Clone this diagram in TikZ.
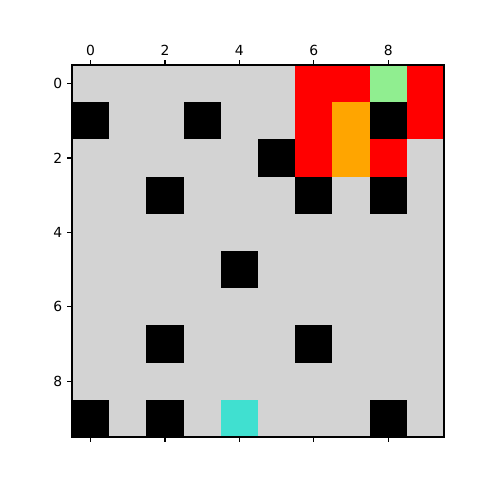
\documentclass[tikz,border=0pt]{standalone}
\usepackage{fontspec}
\setmainfont{DejaVu Sans}
\usepackage{xcolor}
\usetikzlibrary{positioning}
\definecolor{cellgray}{HTML}{D3D3D3}
\definecolor{cellred}{HTML}{FF0000}
\definecolor{cellgreen}{HTML}{90EE90}
\definecolor{cellorange}{HTML}{FFA500}
\definecolor{cellturq}{HTML}{40E0D0}

\begin{document}
\begin{tikzpicture}[
    x=1pt, y=-1pt,
    cell/.style={inner sep=0pt, outer sep=0pt, minimum size=37.2pt, draw=none},
    tick/.style={line width=1.1pt, color=black},
    ticklabel/.style={font=\fontsize{13.9}{16}\selectfont, inner sep=0pt}
  ]
    \useasboundingbox (0,0) rectangle (480,480);

    % background of the grid
    \fill[cellgray] (72,65) rectangle (444,437);

    % coloured cells: row/col/colour
    \foreach \r/\c/\col in {0/6/cellred, 0/7/cellred, 0/8/cellgreen, 0/9/cellred,
                            1/0/black, 1/3/black, 1/6/cellred, 1/7/cellorange, 1/8/black, 1/9/cellred,
                            2/5/black, 2/6/cellred, 2/7/cellorange, 2/8/cellred,
                            3/2/black, 3/6/black, 3/8/black,
                            5/4/black,
                            7/2/black, 7/6/black,
                            9/0/black, 9/2/black, 9/4/cellturq, 9/8/black}
      \node[cell, fill=\col] (c\r\c) at ({90.6+37.2*\c},{83.6+37.2*\r}) {};

    % frame
    \draw[line width=1.1pt] (72,65) rectangle (444,437);

    % ticks and labels
    \foreach \i in {0,2,4,6,8} {
      \draw[tick] ({90.6+37.2*\i},65) -- ++(0,-4.9);
      \draw[tick] ({90.6+37.2*\i},437) -- ++(0,4.9);
      \draw[tick] (72,{83.6+37.2*\i}) -- ++(-4.9,0);
      \node[ticklabel, anchor=south] (top\i) at ({90.6+37.2*\i},55.5) {\i};
      \node[ticklabel, anchor=east] (left\i) at (62.5,{83.6+37.2*\i}) {\i};
    }
\end{tikzpicture}
\end{document}
